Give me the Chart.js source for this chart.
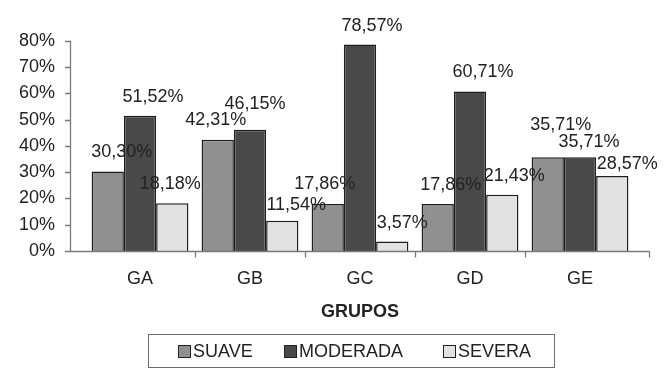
<!DOCTYPE html>
<html>
<head>
<meta charset="utf-8">
<script src="https://cdn.jsdelivr.net/npm/chart.js@4/dist/chart.umd.min.js"></script>
<style>
  html, body { margin: 0; padding: 0; background: #fff; }
  #wrap { width: 671px; height: 368px; }
</style>
</head>
<body>
<div id="wrap"><canvas id="c" width="671" height="368"></canvas></div>
<script>
// Groups and severity percentages
const grupos = ['GA', 'GB', 'GC', 'GD', 'GE'];
const suave = [30.30, 42.31, 17.86, 17.86, 35.71];
const moderada = [51.52, 46.15, 78.57, 60.71, 35.71];
const severa = [18.18, 11.54, 3.57, 21.43, 28.57];
const yTicks = [0, 10, 20, 30, 40, 50, 60, 70, 80];
const axisTitle = 'GRUPOS';

const FONT = '"Liberation Sans", Arial, sans-serif';
const TEXT = '#222';
const AXIS = '#7a7a7a';

// Label placement tweaks (dx, dy in px) per dataset / group
const labelShift = [
  [[14, 0], [-2, 1], [-3, 1], [13, 0], [13, 13]],
  [[13, 0], [5, 7], [12, 0], [13, 0], [9, -4]],
  [[-2, 0], [14, -3], [10, 0], [12, 0], [15, -7]]
];

const fmt = v => v.toFixed(2).replace('.', ',') + '%';

const customDraw = {
  id: 'customDraw',
  afterDraw(chart) {
    const ctx = chart.ctx;
    const x = chart.scales.x, y = chart.scales.y;
    const ca = chart.chartArea;
    ctx.save();
    // axis lines and tick marks
    ctx.strokeStyle = AXIS;
    ctx.lineWidth = 1.3;
    const axX = 70.5;
    const y0 = Math.round(y.getPixelForValue(0)) + 0.5;
    ctx.beginPath();
    ctx.moveTo(axX, y.getPixelForValue(80));
    ctx.lineTo(axX, y0);
    yTicks.forEach(t => {
      const ty = Math.round(y.getPixelForValue(t)) + 0.5;
      ctx.moveTo(65, ty); ctx.lineTo(axX, ty);
    });
    ctx.moveTo(65, y0);
    ctx.lineTo(649.5, y0);
    const band = (ca.right - ca.left) / grupos.length;
    for (let i = 1; i < grupos.length; i++) {
      const tx = Math.round(ca.left + band * i) + 0.5;
      ctx.moveTo(tx, y0); ctx.lineTo(tx, y0 + 6);
    }
    ctx.moveTo(649.5, y0); ctx.lineTo(649.5, y0 + 6);
    ctx.stroke();

    // value labels
    ctx.fillStyle = TEXT;
    ctx.font = '18px ' + FONT;
    ctx.textAlign = 'center';
    ctx.textBaseline = 'middle';
    chart.data.datasets.forEach((ds, di) => {
      const meta = chart.getDatasetMeta(di);
      meta.data.forEach((bar, i) => {
        const s = labelShift[di][i];
        ctx.fillText(fmt(ds.data[i]), bar.x + s[0], bar.y - 19 - s[1]);
      });
    });

    // axis title
    ctx.font = 'bold 18px ' + FONT;
    ctx.fillText(axisTitle, 360, 312);

    // legend
    ctx.strokeStyle = '#6e6e6e';
    ctx.lineWidth = 1;
    ctx.strokeRect(148.5, 334.5, 406, 33);
    const items = [178, 284, 443];
    ctx.font = '18px ' + FONT;
    ctx.textAlign = 'left';
    chart.data.datasets.forEach((ds, di) => {
      const bx = items[di];
      ctx.fillStyle = ds.backgroundColor;
      ctx.fillRect(bx + 0.5, 345.5, 12, 12);
      ctx.strokeStyle = '#222';
      ctx.strokeRect(bx + 0.5, 345.5, 12, 12);
      ctx.fillStyle = TEXT;
      ctx.fillText(ds.label, bx + 15, 352);
    });
    ctx.restore();
  }
};

new Chart(document.getElementById('c'), {
  type: 'bar',
  data: {
    labels: grupos,
    datasets: [
      { label: 'SUAVE', data: suave, backgroundColor: '#909090', borderColor: '#1e1e1e', borderWidth: 1.5 },
      { label: 'MODERADA', data: moderada, backgroundColor: '#494949', borderColor: '#1e1e1e', borderWidth: 1.5 },
      { label: 'SEVERA', data: severa, backgroundColor: '#e2e2e2', borderColor: '#1e1e1e', borderWidth: 1.5 }
    ]
  },
  options: {
    responsive: false,
    animation: false,
    layout: { padding: { top: 37, right: 36, left: 0, bottom: 0 } },
    datasets: { bar: { categoryPercentage: 0.88, barPercentage: 1.0 } },
    plugins: { legend: { display: false }, tooltip: { enabled: false } },
    scales: {
      x: {
        grid: { display: false, drawTicks: false },
        border: { display: false },
        ticks: { color: TEXT, font: { family: FONT, size: 18 }, padding: 17 },
        afterFit(s) { s.height = 117; }
      },
      y: {
        min: 0, max: 80,
        grid: { display: false, drawTicks: false },
        border: { display: false },
        ticks: {
          stepSize: 10,
          color: TEXT,
          font: { family: FONT, size: 18 },
          padding: 30,
          callback: v => v + '%'
        },
        afterFit(s) { s.width = 85; }
      }
    }
  },
  plugins: [customDraw]
});
</script>
</body>
</html>
